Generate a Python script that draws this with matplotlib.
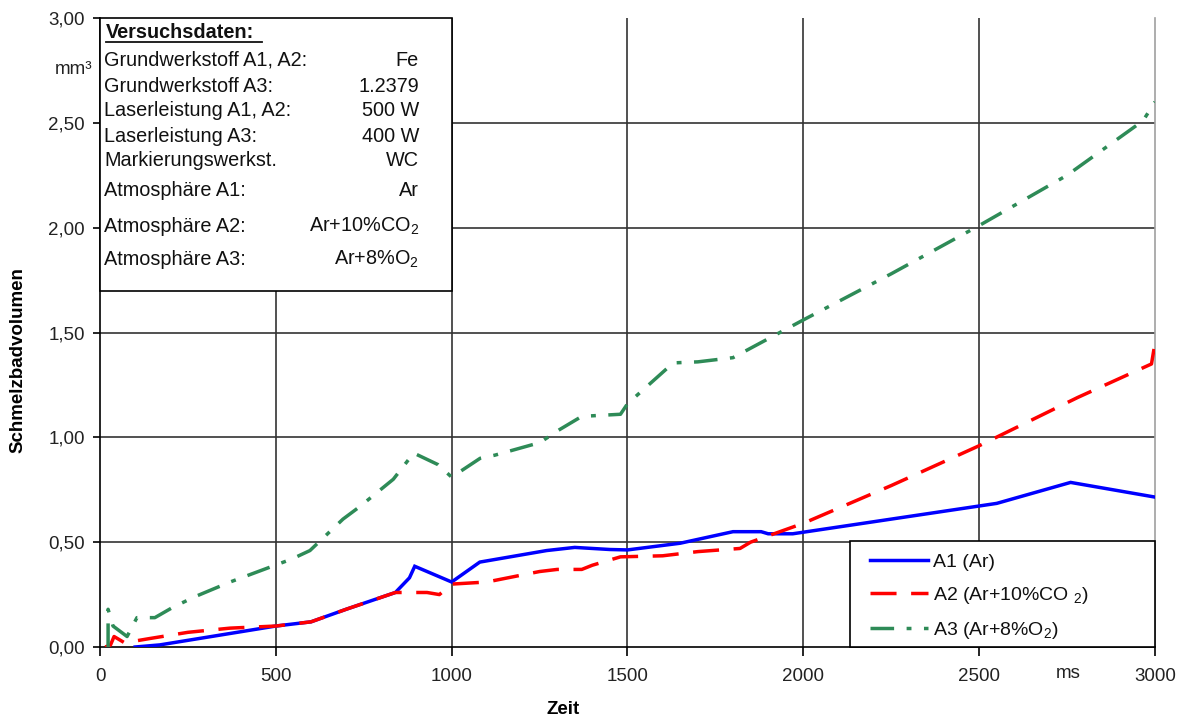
import matplotlib
matplotlib.use("Agg")
import matplotlib.pyplot as plt
from matplotlib.patches import Rectangle
from matplotlib.lines import Line2D

plt.rcParams['font.family'] = ['Liberation Sans', 'DejaVu Sans']
plt.rcParams['mathtext.fontset'] = 'custom'
plt.rcParams['mathtext.rm'] = 'Liberation Sans'
plt.rcParams['mathtext.it'] = 'Liberation Sans'
plt.rcParams['mathtext.bf'] = 'Liberation Sans:bold'
plt.rcParams['mathtext.default'] = 'regular'

# ---------------- data ----------------
a1_x = [100, 170, 500, 600, 700, 840, 880, 895, 1000, 1080, 1270, 1350, 1450, 1500,
        1650, 1800, 1880, 1900, 1970, 2050, 2550, 2760, 3000]
a1_y = [0.0, 0.01, 0.10, 0.12, 0.18, 0.26, 0.33, 0.385, 0.31, 0.405, 0.46, 0.475, 0.465, 0.463,
        0.495, 0.55, 0.55, 0.54, 0.54, 0.56, 0.685, 0.785, 0.715]

a2_x = [15, 30, 40, 70, 140, 250, 370, 500, 600, 700, 840, 870, 930, 965, 1000, 1100,
        1250, 1300, 1370, 1400, 1480, 1600, 1700, 1820, 1850, 2000, 2250, 2500, 2780, 2990, 3000]
a2_y = [0.0, 0.01, 0.05, 0.02, 0.04, 0.07, 0.09, 0.10, 0.12, 0.18, 0.26, 0.26, 0.26, 0.25, 0.30, 0.31,
        0.36, 0.37, 0.37, 0.39, 0.43, 0.435, 0.455, 0.47, 0.50, 0.59, 0.77, 0.96, 1.19, 1.35, 1.45]

a3_x = [23, 23, 37, 77, 105, 156, 208, 270, 370, 418, 546, 597, 691, 739, 834, 892, 961, 1000,
        1081, 1123, 1251, 1300, 1370, 1480, 1500, 1560, 1630, 1700, 1800, 2000, 2250, 2500,
        2750, 2966, 3000]
a3_y = [0.0, 0.18, 0.10, 0.05, 0.14, 0.14, 0.19, 0.24, 0.31, 0.34, 0.42, 0.46, 0.61, 0.67, 0.80,
        0.925, 0.87, 0.81, 0.90, 0.915, 0.975, 1.03, 1.10, 1.11, 1.16, 1.25, 1.355, 1.36, 1.38,
        1.56, 1.78, 2.01, 2.25, 2.51, 2.60]

series_labels = ['A1 (Ar)', 'A2 (Ar+10%CO $_2$)', 'A3 (Ar+8%O$_2$)']

x_ticks = [0, 500, 1000, 1500, 2000, 2500, 3000]
x_ticklabels = ['0', '500', '1000', '1500', '2000', '2500', '3000']
y_ticks = [0.0, 0.5, 1.0, 1.5, 2.0, 2.5, 3.0]
y_ticklabels = ['0,00', '0,50', '1,00', '1,50', '2,00', '2,50', '3,00']

info_title = 'Versuchsdaten:'
info_keys = ['Grundwerkstoff A1, A2:', 'Grundwerkstoff A3:', 'Laserleistung A1, A2:',
             'Laserleistung A3:', 'Markierungswerkst.', 'Atmosphäre A1:',
             'Atmosphäre A2:', 'Atmosphäre A3:']
info_vals = ['Fe', '1.2379', '500 W', '400 W', 'WC', 'Ar', 'Ar+10%CO$_2$', 'Ar+8%O$_2$']

# ---------------- figure ----------------
W, H = 1183, 720
fig = plt.figure(figsize=(W / 100, H / 100), dpi=100)
fig.patch.set_facecolor('white')

def fx(px):
    return px / W

def fy(py):
    return 1 - py / H

ax = fig.add_axes([fx(100), fy(647), fx(1155) - fx(100), fy(18) - fy(647)])
ax.set_xlim(0, 3000)
ax.set_ylim(0, 3.0)

grid_c = '#333333'
for v in x_ticks[1:-1]:
    ax.axvline(v, color=grid_c, lw=1.2, zorder=1)
for v in y_ticks[1:-1]:
    ax.axhline(v, color=grid_c, lw=1.2, zorder=1)

ax.spines['top'].set_visible(False)
ax.spines['right'].set_color('#a0a0a0')
ax.spines['right'].set_linewidth(1.2)
ax.spines['left'].set_linewidth(1.2)
ax.spines['bottom'].set_linewidth(1.2)

ax.set_xticks(x_ticks)
ax.set_xticklabels(x_ticklabels)
ax.set_yticks(y_ticks)
ax.set_yticklabels(y_ticklabels)
ax.tick_params(axis='x', direction='out', length=6.5, width=1.2, pad=8.5,
               labelsize=13.5, colors='black', top=False)
ax.tick_params(axis='y', direction='out', length=5, width=1.2, pad=6,
               labelsize=13.5, colors='black', right=False)
ax.tick_params(axis='x', labelcolor='#222222')
ax.tick_params(axis='y', labelcolor='#222222')

lw = 2.5
l1, = ax.plot(a1_x, a1_y, color='#0000ff', lw=lw, zorder=5, solid_joinstyle='miter')
l2, = ax.plot(a2_x, a2_y, color='#ff0000', lw=lw, zorder=5, dashes=(7.5, 4.2))
l3, = ax.plot(a3_x, a3_y, color='#2e8b57', lw=lw, zorder=5, dashes=(6.8, 3.6, 1.4, 3.6))

# info box
ax.add_patch(Rectangle((0, 1.70), 1000, 1.30, facecolor='white', edgecolor='black',
                       lw=1.2, zorder=3, clip_on=False))
fig.text(fx(106), fy(32), info_title, fontsize=14.3, fontweight='bold',
         va='center', ha='left', color='#111111')
fig.add_artist(Line2D([fx(106), fx(262)], [fy(42), fy(42)], color='#111111', lw=1.3))
row_y = [60, 86, 111, 136, 161, 190, 226, 259]
for k, v, py in zip(info_keys, info_vals, row_y):
    fig.text(fx(104), fy(py), k, fontsize=14.3, va='center', ha='left', color='#111111')
    fig.text(fx(419), fy(py), v, fontsize=14.3, va='center', ha='right', color='#111111')

# legend box
ax.add_patch(Rectangle(((850 - 100) / 1055 * 3000, 0), 3000 - (850 - 100) / 1055 * 3000,
                       (647 - 541) / 629 * 3.0, facecolor='white', edgecolor='black',
                       lw=1.2, zorder=4, clip_on=False))
leg = ax.legend([l1, l2, l3], series_labels, loc='upper left',
                bbox_to_anchor=(fx(870), fy(553)), bbox_transform=fig.transFigure,
                frameon=False, fontsize=14, handlelength=3.0, handletextpad=0.25,
                labelspacing=0.72, borderpad=0, borderaxespad=0)
leg.set_zorder(6)
for t in leg.get_texts():
    t.set_color('#111111')

# axis labels
fig.text(fx(18), fy(360), 'Schmelzbadvolumen', rotation=90, fontsize=13.5,
         fontweight='bold', va='center', ha='center')
fig.text(fx(563), fy(710), 'Zeit', fontsize=13.5, fontweight='bold', va='center', ha='center')
fig.text(fx(92), fy(70), 'mm³', fontsize=13.5, va='center', ha='right', color='#222222')
fig.text(fx(1068), fy(673), 'ms', fontsize=13.5, va='center', ha='center', color='#222222')

fig.savefig('out.png', dpi=100, facecolor='white')
